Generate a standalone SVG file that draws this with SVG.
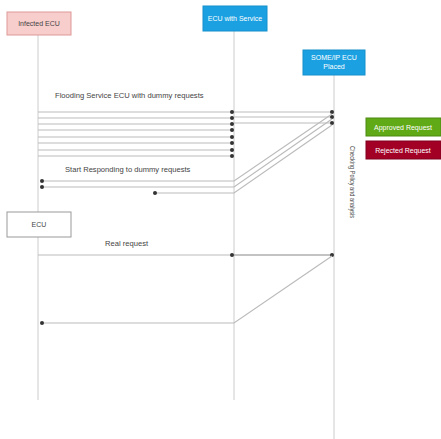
<svg xmlns="http://www.w3.org/2000/svg" width="441" height="439" viewBox="0 0 441 439">
<defs>
<marker id="dot" viewBox="0 0 6 6" refX="3" refY="3" markerWidth="4" markerHeight="4" markerUnits="userSpaceOnUse"><circle cx="3" cy="3" r="3" fill="#333"/></marker>
</defs>
<style>
text{font-family:"Liberation Sans",Arial,sans-serif;font-size:7px;fill:#444}
.lbl{font-size:7.6px}
.ll{stroke:#ccc;stroke-width:1;fill:none}
.msg{stroke:#bbb;stroke-width:1.2;fill:none;marker-end:url(#dot)}
.w{fill:#fff}
</style>
<rect width="441" height="439" fill="#fff"/>
<g id="lifelines">
<line class="ll" x1="38" y1="35" x2="38" y2="400"/>
<line class="ll" x1="234" y1="31" x2="234" y2="400"/>
<line class="ll" x1="334" y1="75" x2="334" y2="439"/>
</g>
<g id="infected-ecu">
<rect x="7" y="12" width="64" height="23" fill="#f8cecc" stroke="#d99" stroke-width="1"/>
<text x="39" y="26" text-anchor="middle">Infected ECU</text>
</g>
<g id="ecu-service">
<rect x="203" y="6" width="64" height="25" fill="#1ba1e2" stroke="#1790cc" stroke-width="1"/>
<text class="w" x="235" y="21" text-anchor="middle">ECU with Service</text>
</g>
<g id="someip-ecu">
<rect x="303" y="50" width="62" height="25" fill="#1ba1e2" stroke="#1790cc" stroke-width="1"/>
<text class="w" x="334" y="60" text-anchor="middle">SOME/IP ECU</text>
<text class="w" x="334" y="69" text-anchor="middle">Placed</text>
</g>
<g id="approved">
<rect x="366" y="118" width="75" height="18" fill="#60a917" stroke="#4d8a12" stroke-width="1"/>
<text class="w" x="403" y="129.5" text-anchor="middle">Approved Request</text>
</g>
<g id="rejected">
<rect x="366" y="141" width="75" height="18" fill="#a20025" stroke="#800020" stroke-width="1"/>
<text class="w" x="403" y="152.5" text-anchor="middle">Rejected Request</text>
</g>
<g id="ecu">
<rect x="7" y="212" width="64" height="25" fill="#fff" stroke="#999" stroke-width="1"/>
<text x="39" y="227" text-anchor="middle">ECU</text>
</g>
<g id="checking">
<text transform="translate(350,146) rotate(90)" font-size="6" textLength="72" lengthAdjust="spacingAndGlyphs">Checking Policy and analysis</text>
</g>
<g id="connectors">
<text class="lbl" x="55" y="98">Flooding Service ECU with dummy requests</text>
<line class="msg" x1="38" y1="112" x2="232" y2="112"/>
<line class="msg" x1="38" y1="118" x2="232" y2="118"/>
<line class="msg" x1="38" y1="124" x2="232" y2="124"/>
<line class="msg" x1="38" y1="130" x2="232" y2="130"/>
<line class="msg" x1="38" y1="137" x2="232" y2="137"/>
<line class="msg" x1="38" y1="143" x2="232" y2="143"/>
<line class="msg" x1="38" y1="150" x2="232" y2="150"/>
<line class="msg" x1="38" y1="156" x2="232" y2="156"/>
<line class="msg" x1="234" y1="112" x2="332" y2="112"/>
<line class="msg" x1="234" y1="117" x2="332" y2="117"/>
<line class="msg" x1="234" y1="123" x2="332" y2="123"/>
<text class="lbl" x="65" y="172">Start Responding to dummy requests</text>
<polyline class="msg" points="332,114 234,181 42,181"/>
<polyline class="msg" points="332,119 234,187 42,187"/>
<polyline class="msg" points="332,125 234,193 155,193"/>
<text class="lbl" x="105" y="246">Real request</text>
<line class="msg" x1="38" y1="255" x2="232" y2="255"/>
<line class="msg" x1="234" y1="255" x2="332" y2="255" style="stroke:#888"/>
<polyline class="msg" points="332,256 234,323 42,323"/>
</g>
</svg>
